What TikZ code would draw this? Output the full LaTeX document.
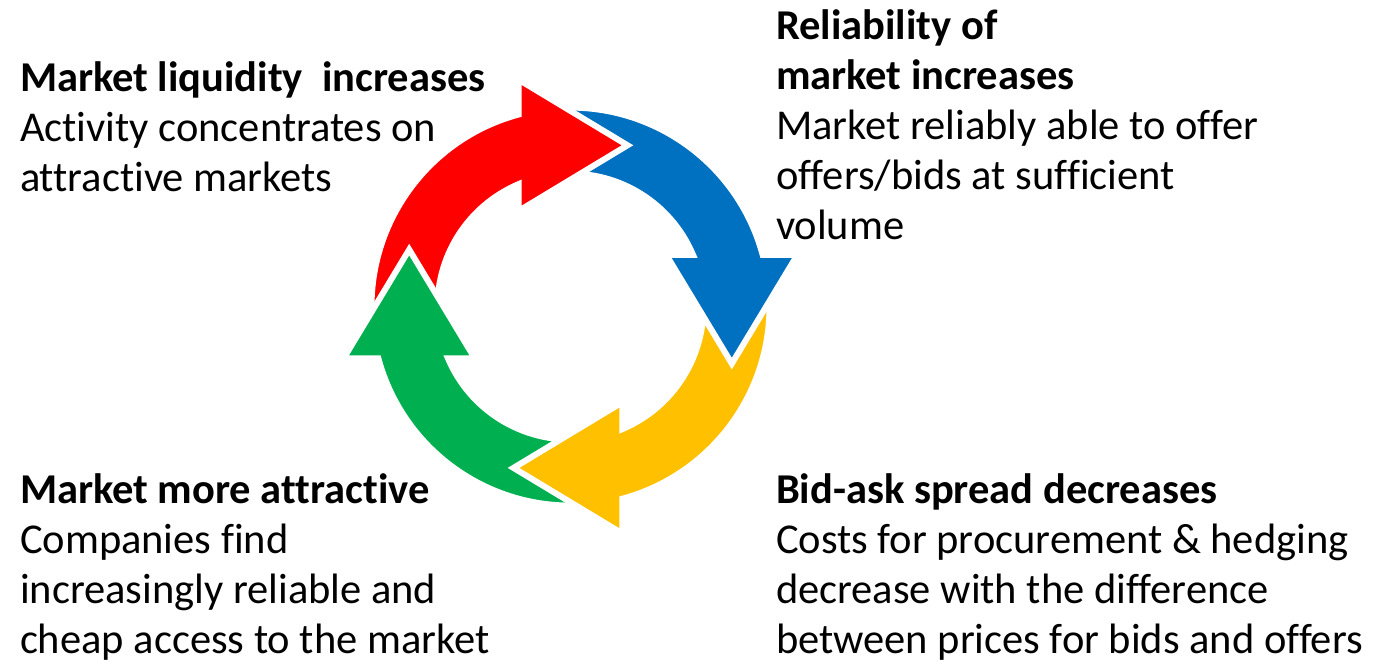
\documentclass[tikz,border=0pt]{standalone}
\usepackage{fontspec}
\setmainfont{Carlito}[Ligatures=CommonOff]
\definecolor{cred}{HTML}{FF0000}
\definecolor{cblue}{HTML}{0070C0}
\definecolor{cyellow}{HTML}{FFC000}
\definecolor{cgreen}{HTML}{00B050}
% stacked lines with a fixed line pitch; the block's baseline is its first line
\newcommand\txtblock[1]{\vtop{\baselineskip=50bp\lineskiplimit=-100bp #1}}
\begin{document}
\begin{tikzpicture}[x=1bp,y=1bp,
  txt/.style={anchor=base west, inner sep=0pt, outer sep=0pt,
              font=\fontsize{42.5bp}{50bp}\selectfont},
  pics/cyclearrow/.style={code={
    \filldraw[fill=#1, draw=white, line width=6bp, line join=miter]
      (183:199) arc[start angle=183, end angle=105.09, radius=199]
      -- (-51.8,226.9) -- (57,161.3) -- (-51.8,95.7)
      -- (112.92:133) arc[start angle=112.92, end angle=183, radius=133]
      -- cycle;
  }}]
\useasboundingbox (0,0) rectangle (1374,666);
\coordinate (C) at (570.5,359.4);

% four curved arrows, each head lying over the tail of the next one
\pic at (C) [rotate=90]  {cyclearrow=cgreen};
\pic at (C) [rotate=180] {cyclearrow=cyellow};
\pic at (C) [rotate=-90] {cyclearrow=cblue};
\pic at (C)              {cyclearrow=cred};
% green head again, over the red tail
\begin{scope}
  \clip ([shift={(-245,-60)}]C) rectangle ([shift={(-90,70)}]C);
  \pic at (C) [rotate=90] {cyclearrow=cgreen};
\end{scope}

% captions
\node[txt] (liq) at (20,574) {\txtblock{%
  \hbox{\bfseries Market liquidity~ increases}
  \hbox{Activity concentrates on}
  \hbox{attractive markets}}};
\node[txt] (rel) at (776,626) {\txtblock{%
  \hbox{\bfseries Reliability of}
  \hbox{\bfseries market increases}
  \hbox{Market reliably able to offer}
  \hbox{offers/bids at sufficient}
  \hbox{volume}}};
\node[txt] (att) at (20,162) {\txtblock{%
  \hbox{\bfseries Market more attractive}
  \hbox{Companies find}
  \hbox{increasingly reliable and}
  \hbox{cheap access to the market}}};
\node[txt] (bid) at (776,162) {\txtblock{%
  \hbox{\bfseries Bid-ask spread decreases}
  \hbox{Costs for procurement \& hedging}
  \hbox{decrease with the difference}
  \hbox{between prices for bids and offers}}};
\end{tikzpicture}
\end{document}
